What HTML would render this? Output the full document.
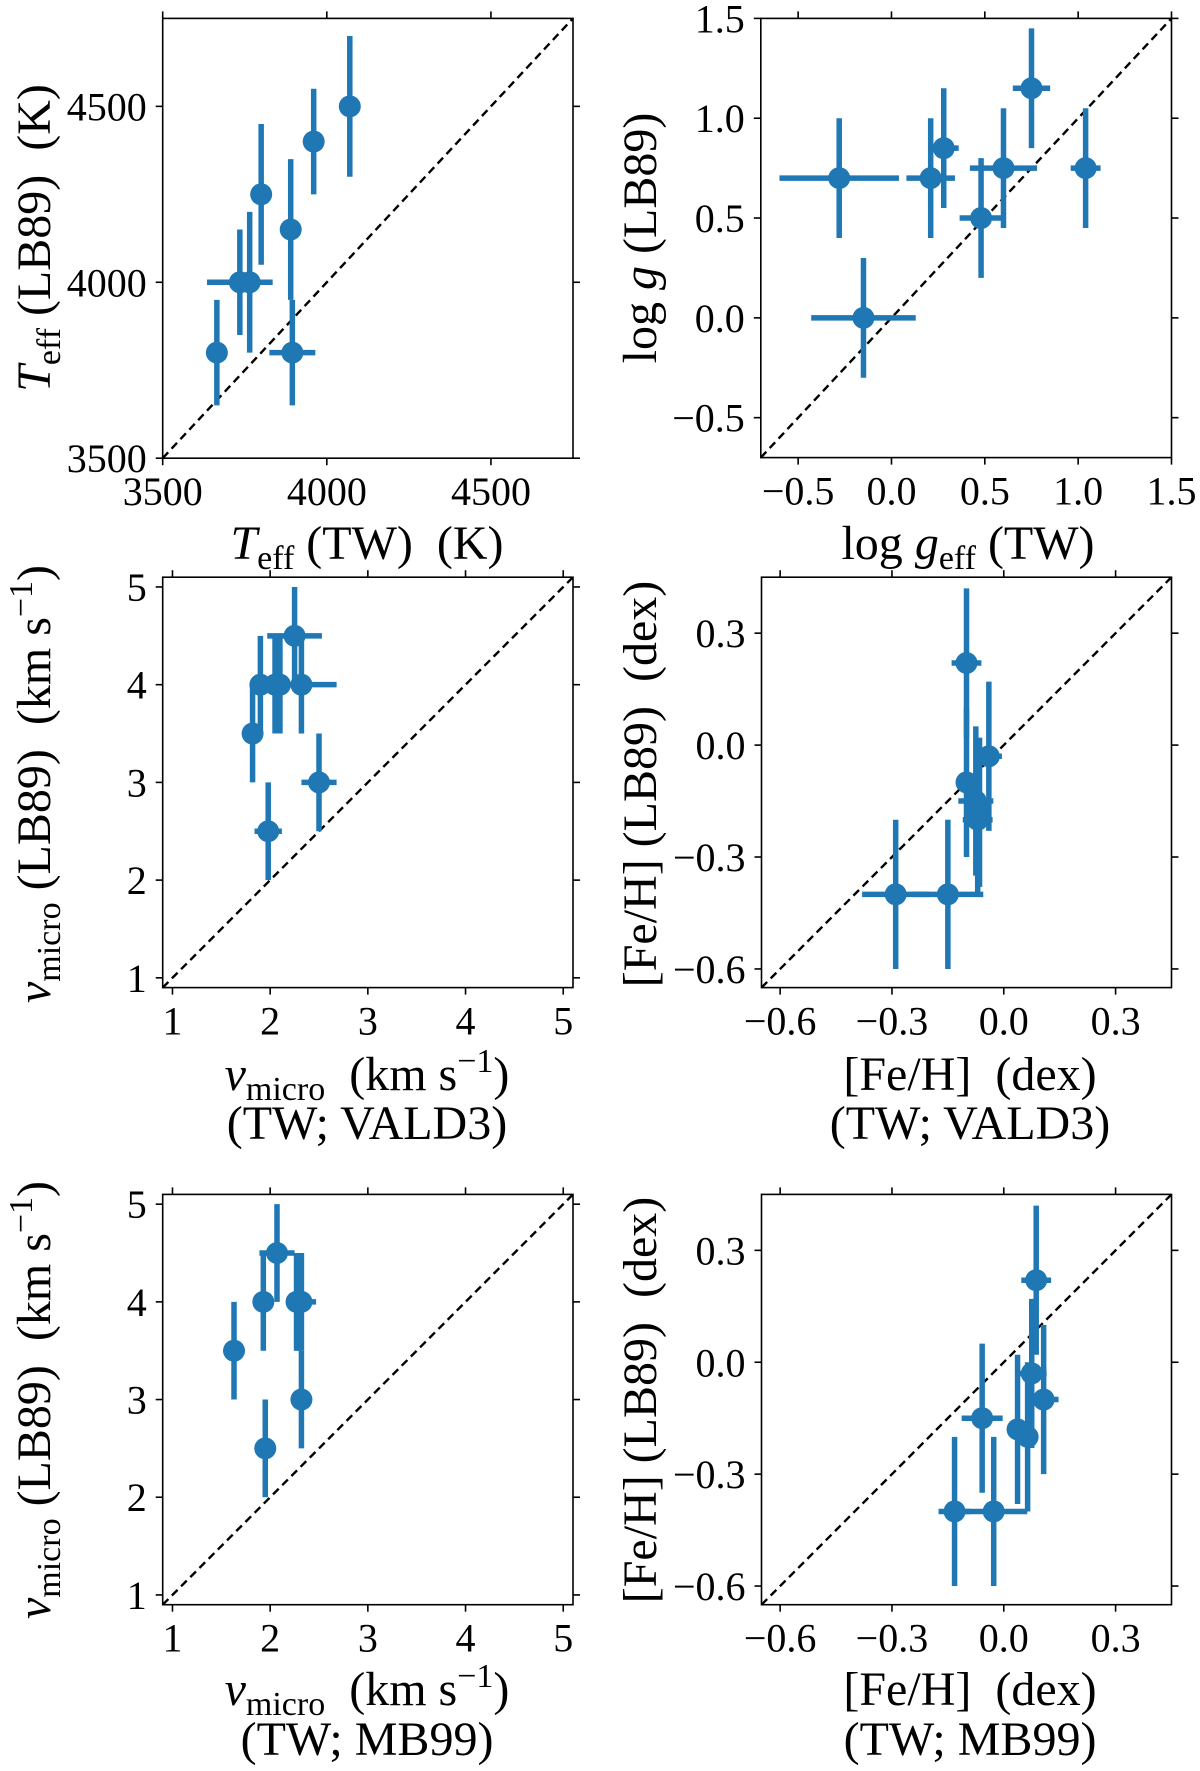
<!DOCTYPE html>
<html><head><meta charset="utf-8"><style>
html,body{margin:0;padding:0;background:#fff;}
svg{display:block;}
text{font-family:"Liberation Serif","DejaVu Serif",serif;}
</style></head>
<body>
<svg id="fig" width="1200" height="1771" viewBox="0 0 1200 1771" xmlns="http://www.w3.org/2000/svg"></svg>
<script>
// Panel 1: Teff
const p1X=[3665,3735,3765,3800,3890,3895,3960,4070];
const p1Y=[3800,4000,4000,4250,4150,3800,4400,4500];
const p1Xerr=[0,100,10,20,10,70,10,10];
const p1Yerr=[150,150,200,200,200,150,150,200];
const p1Ticks=[3500,4000,4500];
const p1TickLabels=["3500","4000","4500"];
// Panel 2: log g
const p2X=[-0.28,-0.15,0.21,0.28,0.48,0.60,0.75,1.04];
const p2Y=[0.7,0.0,0.7,0.85,0.5,0.75,1.15,0.75];
const p2Xerr=[0.32,0.28,0.13,0.08,0.115,0.18,0.1,0.08];
const p2Yerr=[0.3,0.3,0.3,0.3,0.3,0.3,0.3,0.3];
const p2Ticks=[-0.5,0.0,0.5,1.0,1.5];
const p2TickLabels=["\u22120.5","0.0","0.5","1.0","1.5"];
// Panel 3: vmicro VALD3
const p3X=[1.82,1.9,1.98,2.05,2.1,2.25,2.32,2.5];
const p3Y=[3.5,4.0,2.5,4.0,4.0,4.5,4.0,3.0];
const p3Xerr=[0.03,0.1,0.14,0.05,0.05,0.28,0.36,0.18];
const p3Yerr=[0.5,0.5,0.5,0.5,0.5,0.5,0.5,0.5];
// Panel 4: [Fe/H] VALD3
const p4X=[-0.1,-0.1,-0.075,-0.07,-0.065,-0.04,-0.29,-0.15];
const p4Y=[0.22,-0.1,-0.15,-0.2,-0.18,-0.03,-0.4,-0.4];
const p4Xerr=[0.04,0.02,0.047,0.04,0.02,0.035,0.09,0.095];
const p4Yerr=[0.2,0.2,0.2,0.2,0.2,0.2,0.2,0.2];
// Panel 5: vmicro MB99
const p5X=[1.63,1.93,1.95,2.07,2.27,2.29,2.32,2.32];
const p5Y=[3.5,4.0,2.5,4.5,4.0,4.0,4.0,3.0];
const p5Xerr=[0,0.03,0.03,0.18,0.03,0.03,0.15,0.03];
const p5Yerr=[0.5,0.5,0.5,0.5,0.5,0.5,0.5,0.5];
// Panel 6: [Fe/H] MB99
const p6X=[0.087,0.075,0.107,0.037,0.064,-0.058,-0.132,-0.027];
const p6Y=[0.22,-0.03,-0.1,-0.18,-0.2,-0.15,-0.4,-0.4];
const p6Xerr=[0.04,0.04,0.04,0.01,0.02,0.055,0.043,0.09];
const p6Yerr=[0.2,0.2,0.2,0.2,0.2,0.2,0.2,0.2];
const vTicks=[1,2,3,4,5];
const vTickLabels=["1","2","3","4","5"];
const fTicks=[-0.6,-0.3,0.0,0.3];
const fTickLabels=["\u22120.6","\u22120.3","0.0","0.3"];

const NS="http://www.w3.org/2000/svg";
const svg=document.getElementById('fig');
const BLUE="#1f77b4";
const FONT='"Liberation Serif","DejaVu Serif",serif';
function mk(tag,attrs,parent){const e=document.createElementNS(NS,tag);for(const k in attrs)e.setAttribute(k,attrs[k]);(parent||svg).appendChild(e);return e;}

function label(parent,parts,x,y,rot,name){
  const t=mk('text',{x:x,y:y,'font-size':48,'text-anchor':'middle',fill:'#000','font-family':FONT},parent);
  if(rot)t.setAttribute('transform','rotate(-90 '+x+' '+y+')');
  
  
  parts.forEach(p=>{
    const s=mk('tspan',{},t);
    if(p.i)s.setAttribute('font-style','italic');
    if(p.sub){s.setAttribute('font-size',34);s.setAttribute('dy',10);}
    if(p.sup){s.setAttribute('font-size',34);s.setAttribute('dy',-18);}
    if(p.back){s.setAttribute('dy',p.back);}
    s.textContent=p.t;
  });
  return t;
}

function panel(o){
  const g=mk('g',{});
  
  
  const sx=v=>o.x0+(v-o.xmin)/(o.xmax-o.xmin)*(o.x1-o.x0);
  const sy=v=>o.y1-(v-o.ymin)/(o.ymax-o.ymin)*(o.y1-o.y0);
  const d=mk('line',{x1:sx(Math.max(o.xmin,o.ymin)),y1:sy(Math.max(o.xmin,o.ymin)),x2:sx(Math.min(o.xmax,o.ymax)),y2:sy(Math.min(o.xmax,o.ymax)),stroke:'#000','stroke-width':2.4,'stroke-dasharray':'8,5'},g);
  
  
  for(let i=0;i<o.X.length;i++){
    const cx=sx(o.X[i]),cy=sy(o.Y[i]);
    if(o.XE[i]>0){const h=mk('line',{x1:sx(o.X[i]-o.XE[i]),x2:sx(o.X[i]+o.XE[i]),y1:cy,y2:cy,stroke:BLUE,'stroke-width':5.5},g);
      
      }
    const v=mk('line',{x1:cx,x2:cx,y1:sy(o.Y[i]-o.YE[i]),y2:sy(o.Y[i]+o.YE[i]),stroke:BLUE,'stroke-width':5.5},g);
    
    
  }
  for(let i=0;i<o.X.length;i++){
    const c=mk('circle',{cx:sx(o.X[i]),cy:sy(o.Y[i]),r:11,fill:BLUE},g);
    
    
  }
  const f=mk('rect',{x:o.x0,y:o.y0,width:o.x1-o.x0,height:o.y1-o.y0,fill:'none',stroke:'#000','stroke-width':1.6},g);
  
  
  o.xt.forEach((v,i)=>{
    const x=sx(v);
    mk('line',{x1:x,x2:x,y1:o.y1,y2:o.y1+7,stroke:'#000','stroke-width':1.6},g);
    mk('line',{x1:x,x2:x,y1:o.y0,y2:o.y0-7,stroke:'#000','stroke-width':1.6},g);
    const t=mk('text',{x:x,y:o.y1+47,'font-size':40,'text-anchor':'middle','font-family':FONT},g);
    
    
    t.textContent=o.xl[i];
  });
  o.yt.forEach((v,i)=>{
    const y=sy(v);
    mk('line',{x1:o.x0,x2:o.x0-7,y1:y,y2:y,stroke:'#000','stroke-width':1.6},g);
    mk('line',{x1:o.x1,x2:o.x1+7,y1:y,y2:y,stroke:'#000','stroke-width':1.6},g);
    const t=mk('text',{x:o.x0-16,y:y+14,'font-size':40,'text-anchor':'end','font-family':FONT},g);
    
    
    t.textContent=o.yl[i];
  });
  return g;
}

const L=162.7,R=573,L2=761.5,R2=1171.5;
const g1=panel({name:'teff-panel',x0:L,x1:R,y0:18.4,y1:458.2,xmin:3500,xmax:4750,ymin:3500,ymax:4750,X:p1X,Y:p1Y,XE:p1Xerr,YE:p1Yerr,xt:p1Ticks,xl:p1TickLabels,yt:p1Ticks,yl:p1TickLabels});
const g2=panel({name:'logg-panel',x0:760.8,x1:R2,y0:18.4,y1:457.6,xmin:-0.7,xmax:1.5,ymin:-0.7,ymax:1.5,X:p2X,Y:p2Y,XE:p2Xerr,YE:p2Yerr,xt:p2Ticks,xl:p2TickLabels,yt:p2Ticks,yl:p2TickLabels});
const g3=panel({name:'vmicro-vald3-panel',x0:L,x1:R,y0:577.2,y1:987.6,xmin:0.9,xmax:5.1,ymin:0.9,ymax:5.1,X:p3X,Y:p3Y,XE:p3Xerr,YE:p3Yerr,xt:vTicks,xl:vTickLabels,yt:vTicks,yl:vTickLabels});
const g4=panel({name:'feh-vald3-panel',x0:L2,x1:R2,y0:577.2,y1:987.6,xmin:-0.65,xmax:0.45,ymin:-0.65,ymax:0.45,X:p4X,Y:p4Y,XE:p4Xerr,YE:p4Yerr,xt:fTicks,xl:fTickLabels,yt:fTicks,yl:fTickLabels});
const g5=panel({name:'vmicro-mb99-panel',x0:L,x1:R,y0:1194.4,y1:1604.7,xmin:0.9,xmax:5.1,ymin:0.9,ymax:5.1,X:p5X,Y:p5Y,XE:p5Xerr,YE:p5Yerr,xt:vTicks,xl:vTickLabels,yt:vTicks,yl:vTickLabels});
const g6=panel({name:'feh-mb99-panel',x0:L2,x1:R2,y0:1194.4,y1:1604.7,xmin:-0.65,xmax:0.45,ymin:-0.65,ymax:0.45,X:p6X,Y:p6Y,XE:p6Xerr,YE:p6Yerr,xt:fTicks,xl:fTickLabels,yt:fTicks,yl:fTickLabels});

label(g1,[{t:'T',i:1},{t:'eff',sub:1},{t:' (TW)\u00a0\u00a0(K)',back:-10}],367,559,false,'x-axis-title');
label(g1,[{t:'T',i:1},{t:'eff',sub:1},{t:' (LB89)\u00a0\u00a0(K)',back:-10}],50,238,true,'y-axis-title');
label(g2,[{t:'log '},{t:'g',i:1},{t:'eff',sub:1},{t:' (TW)',back:-10}],968,559,false,'x-axis-title');
label(g2,[{t:'log '},{t:'g',i:1},{t:' (LB89)'}],656,238,true,'y-axis-title');

const vx=[{t:'v',i:1},{t:'micro',sub:1},{t:'\u00a0\u00a0(km s',back:-10},{t:'\u22121',sup:1},{t:')',back:18}];
label(g3,vx,367,1090,false,'x-axis-title');
label(g3,[{t:'(TW; VALD3)'}],367,1139,false,'x-axis-subtitle');
label(g3,[{t:'v',i:1},{t:'micro',sub:1},{t:' (LB89)\u00a0\u00a0(km s',back:-10},{t:'\u22121',sup:1},{t:')',back:18}],50,784,true,'y-axis-title');
label(g4,[{t:'[Fe/H]\u00a0\u00a0(dex)'}],970,1090,false,'x-axis-title');
label(g4,[{t:'(TW; VALD3)'}],970,1139,false,'x-axis-subtitle');
label(g4,[{t:'[Fe/H] (LB89)\u00a0\u00a0(dex)'}],656,784,true,'y-axis-title');

label(g5,vx,367,1705,false,'x-axis-title');
label(g5,[{t:'(TW; MB99)'}],367,1755,false,'x-axis-subtitle');
label(g5,[{t:'v',i:1},{t:'micro',sub:1},{t:' (LB89)\u00a0\u00a0(km s',back:-10},{t:'\u22121',sup:1},{t:')',back:18}],50,1400,true,'y-axis-title');
label(g6,[{t:'[Fe/H]\u00a0\u00a0(dex)'}],970,1705,false,'x-axis-title');
label(g6,[{t:'(TW; MB99)'}],970,1755,false,'x-axis-subtitle');
label(g6,[{t:'[Fe/H] (LB89)\u00a0\u00a0(dex)'}],656,1400,true,'y-axis-title');
</script>
</body></html>
